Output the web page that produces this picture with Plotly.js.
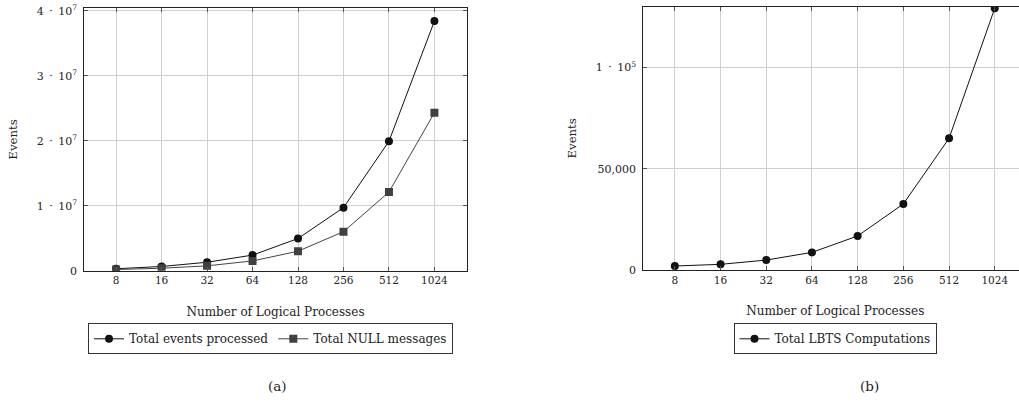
<!DOCTYPE html>
<html>
<head>
<meta charset="utf-8">
<script src="https://cdn.plot.ly/plotly-3.0.1.min.js"></script>
<style>
  html, body { margin: 0; padding: 0; background: #fff; overflow: hidden; }
  #chart { width: 1040px; height: 412px; }
</style>
</head>
<body>
<div id="chart"></div>
<script>
// Number of logical processes (shared x categories)
const processes = ['8', '16', '32', '64', '128', '256', '512', '1024'];

// (a) event counts
const totalEvents = [0.3e6, 0.65e6, 1.3e6, 2.4e6, 4.95e6, 9.7e6, 19.9e6, 38.4e6];
const totalNull   = [0.19e6, 0.38e6, 0.75e6, 1.5e6, 3.0e6, 6.0e6, 12.1e6, 24.3e6];

// (b) LBTS computations
const totalLbts = [1970, 2800, 4900, 8700, 16800, 32600, 65000, 129200];

// y tick labels (en spaces around the centred dot)
const yTicksA = [0, 1e7, 2e7, 3e7, 4e7];
const yTickTextA = ['0', '1\u2002·\u200210<sup>7</sup>', '2\u2002·\u200210<sup>7</sup>',
                    '3\u2002·\u200210<sup>7</sup>', '4\u2002·\u200210<sup>7</sup>'];
const yTicksB = [0, 50000, 100000];
const yTickTextB = ['0', '50,000', '1\u2002·\u200210<sup>5</sup>'];

const W = 1040, H = 412;
const FONT = 'DejaVu Serif, Liberation Serif, serif';
const INK = '#222';
const px = v => v / W;
const py = v => 1 - v / H;

const traces = [
  {
    x: processes, y: totalEvents, name: 'Total events processed',
    type: 'scatter', mode: 'lines+markers', xaxis: 'x', yaxis: 'y', legend: 'legend',
    line: { color: '#111', width: 1 },
    marker: { symbol: 'circle', size: 8, color: '#111' }
  },
  {
    x: processes, y: totalNull, name: 'Total NULL messages',
    type: 'scatter', mode: 'lines+markers', xaxis: 'x', yaxis: 'y', legend: 'legend',
    line: { color: '#444', width: 1 },
    marker: { symbol: 'square', size: 8, color: '#404040' }
  },
  {
    x: processes, y: totalLbts, name: 'Total LBTS Computations',
    type: 'scatter', mode: 'lines+markers', xaxis: 'x2', yaxis: 'y2', legend: 'legend2',
    line: { color: '#111', width: 1 },
    marker: { symbol: 'circle', size: 8, color: '#111' }
  }
];

const axisCommon = {
  showline: true, linecolor: INK, linewidth: 1, mirror: 'ticks',
  ticks: 'inside', ticklen: 4, tickcolor: '#555', tickwidth: 1,
  showgrid: true, gridcolor: '#cfcfcf', gridwidth: 1,
  zeroline: false
};

const xTitle = (t) => ({ text: t, font: { family: FONT, size: 12, color: INK }, standoff: 22 });
const yTitle = (t) => ({ text: t, font: { family: FONT, size: 11.7, color: INK }, standoff: 16 });

const legendCommon = {
  orientation: 'h', yanchor: 'top', y: py(323.3), xanchor: 'center',
  bordercolor: '#333', borderwidth: 1, bgcolor: '#fff',
  font: { family: FONT, size: 12, color: INK }
};

const layout = {
  width: W, height: H,
  margin: { l: 0, r: 0, t: 0, b: 0 },
  paper_bgcolor: '#fff', plot_bgcolor: '#fff',
  font: { family: FONT, color: INK },
  xaxis: Object.assign({}, axisCommon, {
    type: 'category', domain: [px(84.3), px(466.7)], range: [-0.70, 7.71],
    anchor: 'y', tickfont: { family: FONT, size: 10.5, color: INK },
    title: xTitle('Number of Logical Processes')
  }),
  yaxis: Object.assign({}, axisCommon, {
    domain: [py(270.7), py(8.3)], range: [0, 4.037e7], anchor: 'x',
    tickmode: 'array', tickvals: yTicksA, ticktext: yTickTextA,
    tickfont: { family: FONT, size: 11, color: INK }, ticklabelstandoff: 4,
    title: yTitle('Events')
  }),
  xaxis2: Object.assign({}, axisCommon, {
    type: 'category', domain: [px(643.3), px(1027.2)], range: [-0.69, 7.71],
    anchor: 'y2', tickfont: { family: FONT, size: 10.5, color: INK },
    title: xTitle('Number of Logical Processes')
  }),
  yaxis2: Object.assign({}, axisCommon, {
    domain: [py(270), py(6.7)], range: [0, 129980], anchor: 'x2',
    tickmode: 'array', tickvals: yTicksB, ticktext: yTickTextB,
    tickfont: { family: FONT, size: 11, color: INK }, ticklabelstandoff: 4,
    title: yTitle('Events')
  }),
  legend: Object.assign({}, legendCommon, { x: px(270.5) }),
  legend2: Object.assign({}, legendCommon, { x: px(835) }),
  annotations: [
    { text: '(a)', xref: 'paper', yref: 'paper', x: px(277), y: py(386),
      xanchor: 'center', yanchor: 'middle', showarrow: false,
      font: { family: FONT, size: 13.5, color: INK } },
    { text: '(b)', xref: 'paper', yref: 'paper', x: px(869), y: py(386),
      xanchor: 'center', yanchor: 'middle', showarrow: false,
      font: { family: FONT, size: 13.5, color: INK } }
  ]
};

Plotly.newPlot('chart', traces, layout, { staticPlot: true, displayModeBar: false });
</script>
</body>
</html>
